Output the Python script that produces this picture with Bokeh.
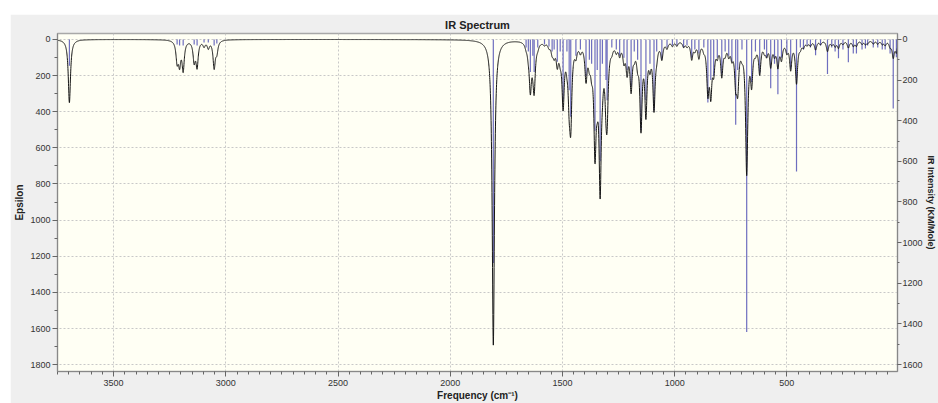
import numpy as np
from bokeh.plotting import figure
from bokeh.models import Range1d, LinearAxis, SingleIntervalTicker, ColumnDataSource
from bokeh.embed import file_html
from bokeh.resources import INLINE

# Vibrational modes
freq = [3697, 3217, 3206, 3190, 3141, 3128, 3097, 3078, 3052, 3040,
        1808, 1662, 1652, 1643, 1632, 1626, 1610, 1580, 1560, 1546, 1537, 1523, 1510,
        1497, 1480, 1470, 1463, 1440, 1420, 1395, 1380, 1370, 1355, 1345, 1332, 1322,
        1306, 1301, 1280, 1260, 1245, 1226, 1212, 1194, 1180, 1165, 1150, 1128, 1110,
        1092, 1080, 1057, 1034, 1010, 990, 960, 945, 924, 910, 892, 870, 852, 839, 826,
        810, 790, 775, 759, 745, 728, 719, 700, 679, 657, 640, 621, 600, 590, 572, 555,
        540, 524, 500, 483, 457, 440, 426, 410, 395, 372, 350, 319, 300, 285, 270, 250,
        226, 204, 190, 165, 150, 140, 115, 95, 75, 62, 40, 26, 12]
# stick intensities (KM/Mole, right axis)
intensity = [130, 25, 30, 30, 25, 30, 15, 15, 30, 20,
             1100, 40, 60, 160, 80, 160, 40, 25, 35, 60, 50, 110, 60,
             300, 60, 250, 380, 80, 50, 180, 100, 120, 450, 150, 600, 120,
             200, 300, 40, 50, 80, 90, 150, 230, 60, 100, 445, 300, 120,
             350, 60, 100, 40, 30, 30, 40, 30, 90, 50, 70, 40, 310, 200, 180,
             90, 170, 60, 80, 110, 420, 150, 50, 1440, 210, 60, 165, 50, 90, 240, 120,
             270, 90, 70, 145, 650, 40, 50, 30, 40, 78, 30, 170, 40, 60, 93, 50,
             112, 70, 70, 50, 45, 30, 40, 40, 50, 50, 70, 340, 88]
# band heights of the broadened curve (Epsilon, left axis)
band_eps = [350, 110, 120, 160, 110, 140, 30, 40, 150, 60,
            1690, 20, 40, 250, 40, 250, 20, 15, 25, 50, 60, 110, 60,
            340, 60, 240, 400, 60, 40, 190, 80, 100, 560, 150, 760, 100,
            210, 330, 30, 40, 60, 90, 150, 250, 50, 90, 460, 380, 100,
            360, 50, 90, 35, 25, 25, 30, 25, 95, 40, 85, 30, 260, 260, 140,
            60, 180, 50, 60, 70, 200, 230, 40, 720, 210, 40, 170, 40, 60, 130, 60,
            130, 90, 50, 150, 230, 30, 30, 20, 25, 50, 20, 60, 20, 30, 40, 20,
            40, 30, 30, 20, 20, 15, 20, 20, 20, 25, 30, 90, 60]
HWHM = 6.0

x_tick_step = 500
y_tick_step = 200

# broadened spectrum (Lorentzian bands)
xs = np.arange(3750.0, 6.9, -0.5)
f_arr = np.array(freq, dtype=float)
e_arr = np.array(band_eps, dtype=float)
curve = (e_arr[None, :] / (1.0 + ((xs[:, None] - f_arr[None, :]) / HWHM) ** 2)).sum(axis=1)

p = figure(width=928, height=389, output_backend="svg", toolbar_location=None,
           x_range=Range1d(3750, 7), y_range=Range1d(1838, -33),
           min_border_left=47, min_border_right=39, min_border_top=19, min_border_bottom=30,
           background_fill_color="#fffff4", border_fill_color="#efefef",
           title="IR Spectrum")
p.margin = (14, 0, 0, 10)

p.title.align = "center"
p.title.text_font = "Liberation Sans"
p.title.text_font_size = "11px"
p.title.text_font_style = "bold"
p.title.text_color = "#222222"
p.title.standoff = 5
p.title.offset = 0

p.outline_line_color = "#a8a8a8"
p.outline_line_width = 1.5

p.extra_y_ranges = {"int": Range1d(1634, -29)}
ax_r = LinearAxis(y_range_name="int", axis_label="IR Intensity (KM/Mole)",
                  ticker=SingleIntervalTicker(interval=y_tick_step, num_minor_ticks=2))
p.add_layout(ax_r, "right")

p.xaxis.ticker = SingleIntervalTicker(interval=x_tick_step, num_minor_ticks=10)
p.yaxis[0].ticker = SingleIntervalTicker(interval=y_tick_step, num_minor_ticks=2)
p.xaxis.axis_label = "Frequency (cm⁻¹)"
p.yaxis[0].axis_label = "Epsilon"

for ax in [p.xaxis[0], p.yaxis[0], ax_r]:
    ax.major_label_text_font = "Liberation Sans"
    ax.major_label_text_font_size = "9px"
    ax.major_label_text_color = "#333333"
    ax.axis_label_text_font = "Liberation Sans"
    ax.axis_label_text_font_size = "10px"
    ax.axis_label_text_font_style = "bold"
    ax.axis_label_text_color = "#222222"
    ax.axis_line_color = "#888888"
    ax.major_tick_line_color = "#666666"
    ax.minor_tick_line_color = "#666666"
    ax.major_tick_in = 0
    ax.major_tick_out = 5
    ax.minor_tick_in = 0
    ax.minor_tick_out = 3
    ax.major_label_standoff = 2
    ax.axis_label_standoff = 2

p.xaxis[0].axis_label_standoff = 1
p.xaxis[0].major_label_standoff = 3
ax_r.major_tick_out = 4
ax_r.minor_tick_out = 2
ax_r.major_label_standoff = 1
ax_r.axis_label_standoff = 0
ax_r.axis_label_text_font_size = "9px"

for g in [p.xgrid[0], p.ygrid[0]]:
    g.grid_line_color = "#c8c8c8"
    g.grid_line_dash = "2 2"
    g.grid_line_width = 1

src = ColumnDataSource(dict(f=freq, i=intensity, z=[0] * len(freq)))
p.segment(x0="f", y0="z", x1="f", y1="i", source=src, y_range_name="int",
          line_color="#3030a8", line_alpha=0.7, line_width=1.2)
p.line(xs, curve, line_color="#151515", line_width=1)

open("out.html", "w").write(file_html(p, INLINE))
